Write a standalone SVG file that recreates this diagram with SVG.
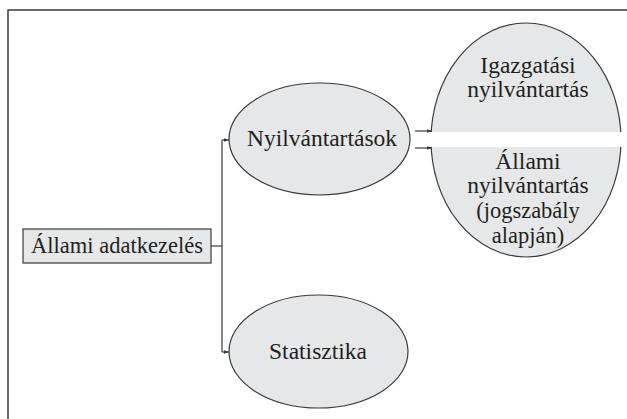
<svg xmlns="http://www.w3.org/2000/svg" width="627" height="419" viewBox="0 0 627 419">
<defs>
<style>
.t{font-family:"Liberation Serif","Times New Roman",serif;font-size:23.5px;fill:#231f20;text-anchor:middle}
.b{font-size:22.5px}
.s{font-size:22.5px}
.n{fill:#e6e7e8;stroke:#3a3a3a;stroke-width:1.2}
.c{fill:none;stroke:#3a3a3a;stroke-width:1.2}
</style>
<marker id="ah" viewBox="0 0 6 6" refX="6" refY="3" markerWidth="5" markerHeight="5" orient="auto" markerUnits="userSpaceOnUse">
<path d="M0,0.8 L6,3 L0,5.2 z" fill="#3a3a3a"/>
</marker>
</defs>
<rect width="627" height="419" fill="#fff"/>
<path d="M8,430 V10 H640" fill="none" stroke="#3a3a3a" stroke-width="1.5"/>
<g id="node-allami-adatkezeles">
<rect class="n" x="23" y="229" width="188" height="34"/>
<text class="t b" x="117" y="253">Állami adatkezelés</text>
</g>
<g id="node-nyilvantartasok">
<ellipse class="n" cx="319.5" cy="139" rx="90.5" ry="56"/>
<text class="t" x="322" y="146">Nyilvántartások</text>
</g>
<g id="node-statisztika">
<ellipse class="n" cx="318.5" cy="351.5" rx="89.5" ry="56.5"/>
<text class="t" x="318" y="359">Statisztika</text>
</g>
<g id="node-nyilvantartas-tipusok">
<ellipse class="n" cx="526" cy="140" rx="95" ry="117"/>
<rect x="425" y="132" width="210" height="15" fill="#fff"/>
<text class="t" x="528" y="73">Igazgatási</text>
<text class="t" x="528" y="97">nyilvántartás</text>
<text class="t" x="528" y="169">Állami</text>
<text class="t" x="528" y="193">nyilvántartás</text>
<text class="t s" x="528" y="218">(jogszabály</text>
<text class="t s" x="528" y="243">alapján)</text>
</g>
<g id="connectors">
<path class="c" d="M211,246 H222"/>
<path class="c" d="M222,140 V352"/>
<path class="c" d="M222,140 H229" marker-end="url(#ah)"/>
<path class="c" d="M222,352 H229" marker-end="url(#ah)"/>
<path class="c" d="M415,131 H432" marker-end="url(#ah)"/>
<path class="c" d="M415,148 H432" marker-end="url(#ah)"/>
</g>
</svg>
